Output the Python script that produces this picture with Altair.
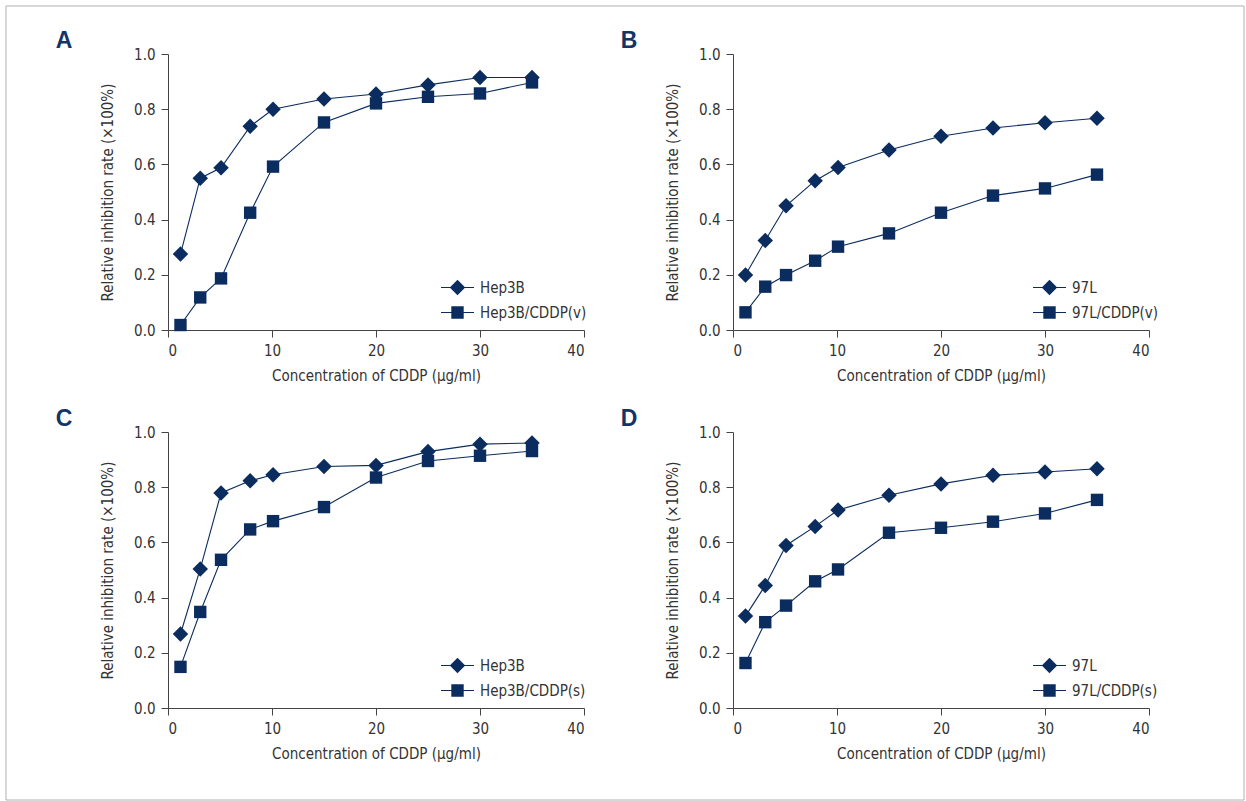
import altair as alt
import pandas as pd

NAVY = "#0b2c5e"
FONT = "Liberation Sans Narrow, DejaVu Sans Condensed, sans-serif"

conc = [1.2, 3.1, 5.1, 7.9, 10.1, 15, 20, 25, 30, 35]
x_ticks = [0, 10, 20, 30, 40]
y_ticks = [0.0, 0.2, 0.4, 0.6, 0.8, 1.0]

a_parent = [0.275, 0.55, 0.588, 0.738, 0.80, 0.837, 0.855, 0.888, 0.915, 0.915]
a_resist = [0.018, 0.118, 0.187, 0.425, 0.592, 0.752, 0.821, 0.845, 0.857, 0.897]
b_parent = [0.199, 0.324, 0.45, 0.541, 0.589, 0.652, 0.702, 0.732, 0.751, 0.767]
b_resist = [0.064, 0.157, 0.199, 0.251, 0.302, 0.35, 0.425, 0.487, 0.513, 0.563]
c_parent = [0.268, 0.504, 0.779, 0.823, 0.845, 0.875, 0.879, 0.929, 0.956, 0.96]
c_resist = [0.149, 0.348, 0.537, 0.647, 0.677, 0.728, 0.835, 0.895, 0.914, 0.931]
d_parent = [0.333, 0.444, 0.589, 0.658, 0.717, 0.771, 0.812, 0.843, 0.855, 0.867]
d_resist = [0.163, 0.311, 0.371, 0.459, 0.502, 0.635, 0.653, 0.675, 0.705, 0.754]

MSIZE = 240
DIAMOND = "M-1,0L0,-1L1,0L0,1Z"
SQUARE = "M-0.8,-0.8L0.8,-0.8L0.8,0.8L-0.8,0.8Z"
BAR = "M-2.13,-0.068L2.13,-0.068L2.13,0.068L-2.13,0.068Z"
LEG_DIAMOND = DIAMOND + BAR
LEG_SQUARE = SQUARE + BAR

X_TITLE = "Concentration of CDDP (μg/ml)"
Y_TITLE = "Relative inhibition rate (×100%)"


def panel(letter, parent_name, parent_vals, resist_name, resist_vals, legend_x, border=False):
    df = pd.DataFrame({
        "conc": conc + conc,
        "rate": parent_vals + resist_vals,
        "line": [parent_name] * len(conc) + [resist_name] * len(conc),
    })
    base = alt.Chart(df)
    x = alt.X("conc:Q", scale=alt.Scale(domain=[0, 40], nice=False),
              axis=alt.Axis(values=x_ticks, title=X_TITLE, format="d"))
    y = alt.Y("rate:Q", scale=alt.Scale(domain=[0, 1], nice=False),
              axis=alt.Axis(values=y_ticks, title=Y_TITLE, format=".1f"))
    lines = base.mark_line(color=NAVY, strokeWidth=1.1).encode(x=x, y=y, detail="line:N")
    diamonds = base.transform_filter(alt.datum.line == parent_name).mark_point(
        shape=DIAMOND, size=MSIZE, filled=True, color=NAVY, opacity=1).encode(x=x, y=y)
    squares = base.transform_filter(alt.datum.line == resist_name).mark_point(
        shape=SQUARE, size=MSIZE, filled=True, color=NAVY, opacity=1).encode(x=x, y=y)
    legend_layer = base.transform_filter("false").mark_point(
        filled=True, color=NAVY, opacity=1, size=MSIZE).encode(
        x=x, y=y,
        shape=alt.Shape("line:N",
                        scale=alt.Scale(domain=[parent_name, resist_name],
                                        range=[LEG_DIAMOND, LEG_SQUARE]),
                        legend=alt.Legend(orient="none", legendX=legend_x, legendY=225,
                                          title=None, labelOffset=14, rowPadding=4,
                                          symbolSize=MSIZE, padding=0,
                                          labelFontSize=15, labelFont=FONT,
                                          labelColor="#333333")))
    lab = alt.Chart(alt.Data(values=[{"label": letter}])).mark_text(
        font="Liberation Sans", fontWeight="bold", fontSize=23, color="#123566",
        align="center", baseline="alphabetic").encode(
        text="label:N", x=alt.value(-104), y=alt.value(-6))
    layers = []
    if border:
        layers.append(alt.Chart(alt.Data(values=[{"label": "frame"}])).mark_rect(
            fillOpacity=0, stroke="#b0b0b0", strokeWidth=1).encode(
            x=alt.value(-162), x2=alt.value(1076), y=alt.value(-48), y2=alt.value(746)))
    layers += [lines, diamonds, squares, legend_layer, lab]
    return alt.layer(*layers).properties(width=416, height=276)


pA = panel("A", "Hep3B", a_parent, "Hep3B/CDDP(v)", a_resist, 281, border=True)
pB = panel("B", "97L", b_parent, "97L/CDDP(v)", b_resist, 308)
pC = panel("C", "Hep3B", c_parent, "Hep3B/CDDP(s)", c_resist, 281)
pD = panel("D", "97L", d_parent, "97L/CDDP(s)", d_resist, 308)

chart = alt.concat(
    pA, pB, pC, pD, columns=2,
    spacing={"row": 102, "column": 149}, bounds="flush",
).resolve_scale(shape="independent", x="independent", y="independent").resolve_legend(
    shape="independent"
).properties(
    padding={"left": 5, "top": 5, "right": 0, "bottom": 0}
).configure_view(stroke="transparent").configure_axis(
    grid=False, domainColor="#444444", tickColor="#444444", tickSize=7,
    labelFont=FONT, titleFont=FONT, labelFontSize=15, titleFontSize=15,
    labelColor="#333333", titleColor="#333333", titleFontWeight="normal",
    labelPadding=6, domainWidth=1, tickWidth=1,
).configure_axisY(titlePadding=18).configure_axisX(titlePadding=10)

chart.save("out.html", embed_options={"renderer": "svg", "actions": False})
